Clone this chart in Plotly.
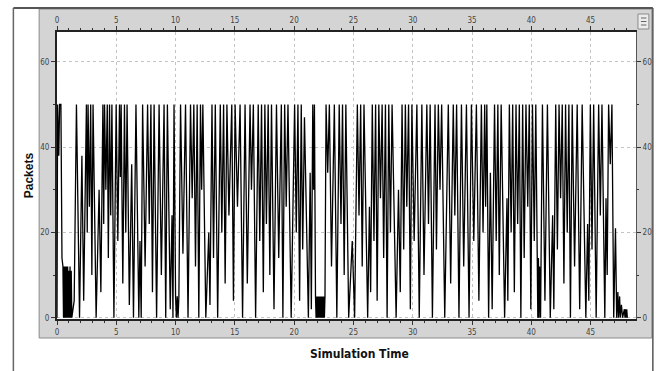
import plotly.graph_objects as go

# ---- data ----
time_1 = [
    0.00, 0.05, 0.15, 0.22, 0.33, 0.42, 0.50, 0.55, 0.60, 0.65,
    0.70, 0.75, 0.80, 0.85, 0.90, 0.95, 1.00, 1.05, 1.10, 1.15,
    1.20, 1.25, 1.45, 1.64, 1.90, 2.10, 2.25, 2.48, 2.55, 2.62,
    2.73, 2.84, 2.94, 3.04, 3.30, 3.55, 3.70, 3.87, 3.94, 4.01,
    4.12, 4.24, 4.33, 4.43, 4.53, 4.63, 4.80, 4.99, 5.13, 5.27,
    5.34, 5.41, 5.55, 5.69, 5.80, 5.91, 6.10, 6.30, 6.45, 6.66,
    6.90, 7.00, 7.10, 7.22, 7.43, 7.64, 7.78, 7.92, 8.05, 8.19,
    8.40, 8.61, 8.80, 9.03, 9.17, 9.31, 9.55, 9.70, 9.78, 9.87,
    10.00, 10.07, 10.14, 10.21, 10.28, 10.42, 10.62, 10.84, 11.05, 11.26,
    11.40, 11.54, 11.68, 11.82, 11.96]
packets_1 = [
    0, 50, 38, 50, 50, 14, 12, 0, 12, 0,
    12, 0, 12, 0, 12, 0, 11, 0, 12, 0,
    11, 0, 4, 50, 0, 38, 4, 50, 20, 50,
    26, 50, 10, 50, 0, 30, 6, 50, 22, 50,
    30, 50, 14, 50, 24, 50, 0, 50, 18, 50,
    33, 50, 8, 50, 20, 50, 3, 36, 0, 50,
    0, 18, 0, 50, 12, 50, 22, 50, 6, 50,
    0, 50, 10, 50, 0, 50, 2, 24, 0, 50,
    5, 0, 5, 0, 5, 50, 15, 50, 0, 50,
    28, 50, 12, 50, 0]

time_2 = [
    12.10, 12.20, 12.30, 12.55, 12.80, 12.90, 13.07, 13.20, 13.35, 13.55,
    13.77, 13.90, 14.05, 14.18, 14.33, 14.50, 14.74, 14.88, 15.02, 15.22,
    15.44, 15.65, 15.86, 16.05, 16.28, 16.40, 16.56, 16.75, 16.97, 17.10,
    17.25, 17.40, 17.53, 17.66, 17.81, 17.95, 18.09, 18.30, 18.51, 18.70,
    18.92, 19.05, 19.20, 19.33, 19.48, 19.75, 20.04, 20.18, 20.32, 20.46,
    20.60, 20.72, 20.87, 21.20, 21.35, 21.45, 21.57, 21.64, 21.71, 21.80,
    21.85, 21.90, 21.95, 22.00, 22.05, 22.10, 22.15, 22.20, 22.25, 22.30,
    22.35, 22.40, 22.45, 22.50, 22.55, 22.60, 22.69, 22.83, 22.97, 23.15,
    23.39, 23.60, 23.80, 23.95, 24.08, 24.22, 24.36, 24.60]
packets_2 = [
    50, 30, 50, 0, 20, 3, 50, 14, 50, 0,
    50, 20, 50, 8, 50, 24, 50, 4, 50, 26,
    50, 0, 50, 8, 50, 30, 50, 0, 50, 18,
    50, 6, 50, 22, 50, 10, 50, 2, 50, 14,
    50, 0, 50, 26, 50, 0, 50, 20, 50, 4,
    50, 16, 47, 0, 34, 2, 50, 30, 50, 5,
    0, 5, 0, 5, 0, 5, 0, 5, 0, 5,
    0, 5, 0, 5, 0, 5, 50, 34, 50, 12,
    50, 0, 50, 22, 50, 10, 50, 0]

time_3 = [
    24.90, 25.10, 25.33, 25.47, 25.61, 25.74, 25.89, 26.20, 26.35, 26.45,
    26.59, 26.73, 26.87, 27.00, 27.14, 27.28, 27.42, 27.55, 27.70, 27.84,
    27.98, 28.12, 28.26, 28.60, 28.80, 28.95, 29.10, 29.24, 29.38, 29.50,
    29.65, 29.80, 29.93, 30.12, 30.35, 30.55, 30.77, 30.95, 31.19, 31.33,
    31.47, 31.66, 31.88, 32.00, 32.16, 32.30, 32.44, 32.70, 33.00, 33.20,
    33.42, 33.55, 33.70, 33.90, 34.11, 34.30, 34.53, 34.75, 34.95, 35.15,
    35.37, 35.58, 35.79, 35.93, 36.07, 36.15, 36.25, 36.40]
packets_3 = [
    18, 0, 50, 24, 50, 12, 50, 0, 26, 6,
    50, 18, 50, 4, 50, 28, 50, 14, 50, 0,
    50, 20, 50, 0, 30, 6, 50, 16, 50, 26,
    50, 2, 50, 18, 50, 0, 50, 10, 50, 22,
    50, 0, 50, 16, 50, 30, 50, 0, 50, 8,
    50, 24, 50, 0, 50, 12, 50, 0, 50, 18,
    50, 4, 50, 20, 50, 26, 50, 0]

time_4 = [
    36.55, 36.70, 36.90, 37.04, 37.18, 37.30, 37.46, 37.75, 37.95, 38.02,
    38.15, 38.30, 38.43, 38.57, 38.71, 38.85, 38.99, 39.12, 39.27, 39.40,
    39.55, 39.70, 39.83, 39.96, 40.10, 40.25, 40.38, 40.55, 40.60, 40.65,
    40.70, 40.78, 40.94, 41.15, 41.36, 41.60, 41.80, 41.90, 42.06, 42.20,
    42.34, 42.47, 42.61, 42.75, 42.89, 43.03, 43.17, 43.30, 43.45, 43.65,
    43.87, 44.08, 44.29, 44.60, 44.75, 44.85, 44.98, 45.12, 45.26, 45.47,
    45.68, 45.82, 45.96, 46.20, 46.30, 46.40, 46.52, 46.66, 46.80, 46.95,
    47.10, 47.20, 47.30, 47.35, 47.45, 47.50, 47.60, 47.70, 47.85, 47.90,
    47.95, 48.00, 48.05, 48.10]
packets_4 = [
    34, 2, 50, 18, 50, 10, 50, 0, 28, 4,
    50, 20, 50, 6, 50, 22, 50, 0, 50, 14,
    50, 26, 50, 2, 50, 18, 50, 0, 14, 0,
    12, 0, 50, 4, 50, 0, 24, 2, 50, 16,
    50, 28, 50, 8, 50, 20, 50, 0, 50, 12,
    50, 2, 50, 0, 22, 4, 50, 16, 50, 0,
    50, 24, 50, 0, 28, 10, 50, 36, 50, 0,
    21, 0, 6, 0, 5, 0, 3, 0, 2, 0,
    2, 0, 2, 0]

x_ticks = [0, 5, 10, 15, 20, 25, 30, 35, 40, 45]
y_ticks = [0, 20, 40, 60]
x_title = "Simulation Time"
y_title = "Packets"

sim_time = time_1 + time_2 + time_3 + time_4
packets = packets_1 + packets_2 + packets_3 + packets_4
assert len(sim_time) == len(packets)

# ---- figure ----
W, H = 664, 371
L, R, T, B = 57, 641, 32, 319   # plot area in pixels
pw, ph = R - L, B - T


def px(x):
    return (x - L) / pw


def py(y):
    return (B - y) / ph


tick_font = dict(family="DejaVu Sans Condensed, Liberation Sans Narrow, sans-serif",
                 size=8, color="#444")

fig = go.Figure()
fig.add_trace(go.Scatter(x=sim_time, y=packets, mode="lines",
                         line=dict(color="#000000", width=1.3),
                         hoverinfo="skip", showlegend=False))
fig.add_trace(go.Scatter(x=sim_time, y=packets, mode="lines", xaxis="x2", yaxis="y2",
                         line=dict(color="rgba(0,0,0,0)", width=1),
                         hoverinfo="skip", showlegend=False))

xr = [0, 48.83]
yr = [-0.3, 67]
common_x = dict(range=xr, tickvals=x_ticks, ticktext=[str(v) for v in x_ticks],
                ticks="outside", ticklen=4, tickcolor="#333", tickfont=tick_font,
                showline=True, linecolor="#222", linewidth=2, zeroline=False,
                minor=dict(dtick=1, ticks="outside", ticklen=2, tickcolor="#333", showgrid=False))
common_y = dict(range=yr, tickvals=y_ticks, ticktext=[str(v) for v in y_ticks],
                ticks="outside", ticklen=4, tickcolor="#333", tickfont=tick_font,
                showline=True, zeroline=False,
                minor=dict(dtick=10, ticks="outside", ticklen=2, tickcolor="#333", showgrid=False))

fig.update_layout(
    width=W, height=H,
    margin=dict(l=L, r=W - R, t=T, b=H - B),
    paper_bgcolor="white", plot_bgcolor="white",
    xaxis=dict(**common_x, side="bottom", showgrid=True, gridcolor="#c4c4c4",
               griddash="dot", gridwidth=1),
    xaxis2=dict(**common_x, side="top", overlaying="x", showgrid=False),
    yaxis=dict(**common_y, side="left", linecolor="#222", linewidth=2,
               showgrid=True, gridcolor="#c4c4c4", griddash="dot", gridwidth=1),
    yaxis2=dict(**common_y, side="right", overlaying="y", linecolor="#555",
                linewidth=1, showgrid=False),
    shapes=[
        dict(type="rect", xref="paper", yref="paper", layer="below",
             x0=px(39), x1=px(657), y0=py(338), y1=py(9),
             fillcolor="#d4d4d4", line=dict(color="#8a8a8a", width=1)),
        dict(type="rect", xref="paper", yref="paper", layer="below",
             x0=0, x1=1, y0=0, y1=1,
             fillcolor="#ffffff", line=dict(width=0)),
        dict(type="line", xref="paper", yref="paper", layer="above",
             x0=px(13), x1=px(658), y0=py(8), y1=py(8),
             line=dict(color="#555", width=2)),
        dict(type="line", xref="paper", yref="paper", layer="above",
             x0=px(13), x1=px(13), y0=py(8), y1=py(371),
             line=dict(color="#666", width=1.5)),
        dict(type="line", xref="paper", yref="paper", layer="above",
             x0=px(658), x1=px(658), y0=py(8), y1=py(371),
             line=dict(color="#555", width=1.5)),
        dict(type="rect", xref="paper", yref="paper", layer="above",
             x0=px(643), x1=px(654), y0=py(29), y1=py(14),
             fillcolor="#ececec", line=dict(color="#8a8a8a", width=1)),
        dict(type="line", xref="paper", yref="paper", layer="above",
             x0=px(646), x1=px(651.5), y0=py(18), y1=py(18), line=dict(color="#666", width=1)),
        dict(type="line", xref="paper", yref="paper", layer="above",
             x0=px(646), x1=px(651.5), y0=py(21.5), y1=py(21.5), line=dict(color="#666", width=1)),
        dict(type="line", xref="paper", yref="paper", layer="above",
             x0=px(646), x1=px(651.5), y0=py(25), y1=py(25), line=dict(color="#666", width=1)),
    ],
    annotations=[
        dict(text=f"<b>{x_title}</b>", xref="paper", yref="paper",
             x=px(362), y=py(354), showarrow=False, xanchor="center", yanchor="middle",
             font=dict(family="DejaVu Sans Condensed, Liberation Sans Narrow, sans-serif",
                       size=12, color="#111")),
        dict(text=f"<b>{y_title}</b>", xref="paper", yref="paper",
             x=px(29), y=py(175), showarrow=False, textangle=-90,
             xanchor="center", yanchor="middle",
             font=dict(family="Liberation Sans, Arial, sans-serif", size=12, color="#111")),
    ],
)

fig.write_html("out.html")
